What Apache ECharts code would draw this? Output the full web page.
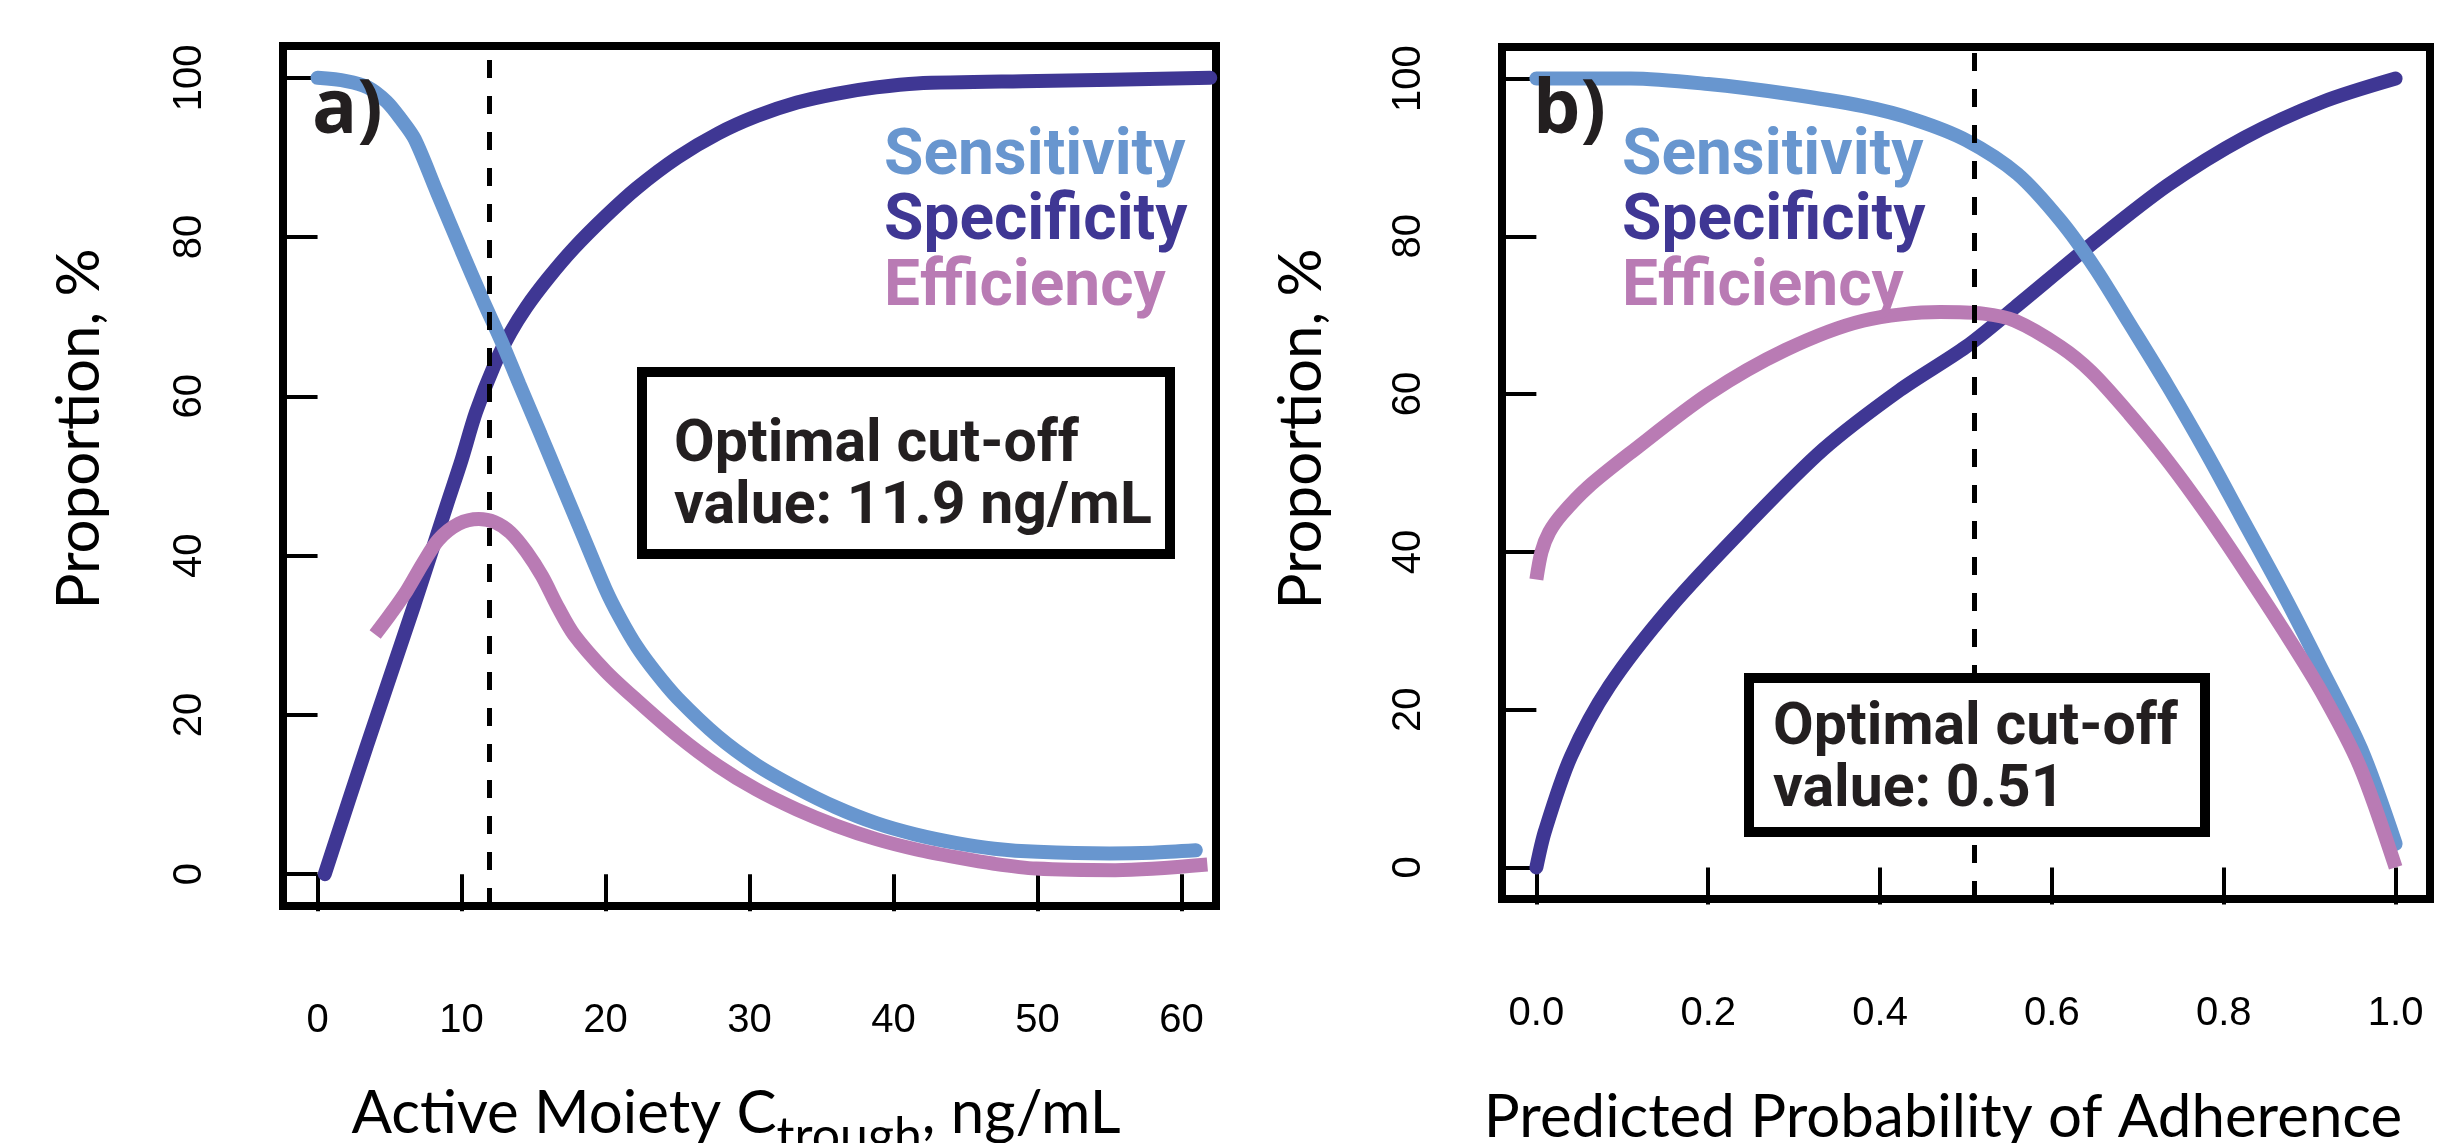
<!DOCTYPE html>
<html lang="en">
<head>
<meta charset="UTF-8">
<title>Sensitivity / Specificity / Efficiency</title>
<style>
  html, body { margin: 0; padding: 0; background: #fff; }
  #chart { width: 2450px; height: 1143px; }
</style>
</head>
<body>
<div id="chart"></div>
<script src="https://cdn.jsdelivr.net/npm/echarts@6.0.0/dist/echarts.min.js"></script>
<script>
// tick values
var xTicksA = [0, 10, 20, 30, 40, 50, 60];
var xTicksB = [0, 0.2, 0.4, 0.6, 0.8, 1.0];
var yTicks = [0, 20, 40, 60, 80, 100];
var cutoffA = 11.9;
var cutoffB = 0.505;

// panel a) : active moiety C trough, ng/mL  ->  proportion %
var sensA = [[0,100],[2,99.6],[3.5,98.8],[4.8,97],[5.8,94.8],[6.75,92.3],[8.3,85.6],[10,78.3],[11.5,72],
  [12.8,66.8],[14,61.6],[15.5,55.2],[16.7,50],[18.3,43.1],[20,35.8],[21,32.2],[22.2,28.5],[23.5,25.3],
  [25,22.1],[27.8,17.3],[30.5,13.7],[33.3,10.8],[36,8.4],[38.8,6.4],[41.5,5],[44.4,3.9],[47,3.2],
  [50,2.8],[55,2.6],[58,2.7],[61,3.0]];
var specA = [[0.5,0],[3.4,16],[6.75,34],[9,46.5],[10,52],[11,58],[12.3,64],[13.4,68],[14.5,71.2],
  [16,74.8],[17.8,78.6],[20,82.6],[22.2,86.2],[25,90],[27.8,93],[30.5,95.2],[33.3,96.9],[36,98],
  [38.8,98.8],[41.6,99.3],[50,99.6],[62,100]];
var effA = [[4,30.1],[5,32.5],[6.2,35.6],[7.3,39],[8.4,42],[9.8,44],[11.2,44.6],[12.3,44.2],[13.4,42.9],
  [14.5,40.5],[15.6,37.4],[16.7,33.5],[17.8,30.1],[20,25.5],[22.2,21.8],[25,17.4],[27.8,13.6],[30.5,10.6],
  [33.3,8.1],[36,6.1],[38.8,4.4],[41.6,3.1],[44.4,2.1],[47,1.3],[49.9,0.7],[55.4,0.5],[61.8,1.2]];

// panel b) : predicted probability of adherence  ->  proportion %
var sensB = [[0,100],[0.11,100],[0.2,99.3],[0.29,98.1],[0.38,96.5],[0.44,94.8],[0.5,92.2],[0.56,87.9],
  [0.61,82],[0.65,76],[0.69,69],[0.735,61],[0.78,52.5],[0.82,44.5],[0.87,34.5],[0.91,26],[0.96,15],[1.0,3]];
var specB = [[0,0],[0.01,4.6],[0.04,14],[0.085,23],[0.156,33],[0.245,43.4],[0.334,53],[0.423,60.5],
  [0.5,66],[0.557,71],[0.646,79],[0.735,86.5],[0.824,92.5],[0.914,97],[1.0,100]];
var effB = [[0,36.5],[0.006,40],[0.015,42.5],[0.03,44.8],[0.06,48.2],[0.11,52.6],[0.2,60],[0.29,65.6],
  [0.38,69.3],[0.47,70.4],[0.52,70.2],[0.557,69.3],[0.61,66],[0.646,62.8],[0.69,57.5],[0.735,51.5],
  [0.78,44.8],[0.824,37.7],[0.87,30],[0.914,22.2],[0.958,12.9],[1.0,0]];

var cSens = '#6896cf', cSpec = '#3f3794', cEff = '#b97bb4';
var tickFont = 'Liberation Sans, Arial, sans-serif';
var titleFont = 'Lato, sans-serif';
var boldFont = 'Roboto, sans-serif';

function curve(name, data, color, cap, gi, z) {
    return {
        name: name, type: 'line', xAxisIndex: gi, yAxisIndex: gi, data: data,
        showSymbol: false, smooth: 0.3, silent: true, z: z,
        lineStyle: { width: 14, color: color, cap: cap }
    };
}

function cutLine(gi, value) {
    return {
        type: 'line', xAxisIndex: gi, yAxisIndex: gi, data: [], z: 5,
        markLine: {
            silent: true, symbol: ['none', 'none'], label: { show: false },
            lineStyle: { type: [18, 18], width: 5, color: '#000' },
            data: [{ xAxis: value }]
        }
    };
}

function xAxis(gi, min, max, ticks, fmt) {
    return {
        gridIndex: gi, type: 'value', min: min, max: max,
        axisLine: { show: false }, splitLine: { show: false },
        axisTick: { show: true, customValues: ticks, length: 37, lineStyle: { width: 4, color: '#000' } },
        axisLabel: { customValues: ticks, margin: 95, fontSize: 40, fontFamily: tickFont, color: '#000', formatter: fmt }
    };
}

function yAxis(gi) {
    return {
        gridIndex: gi, type: 'value', min: -4, max: 104,
        axisLine: { show: false }, splitLine: { show: false },
        axisTick: { show: true, customValues: yTicks, length: 37, lineStyle: { width: 4, color: '#000' } },
        axisLabel: { customValues: yTicks, rotate: 90, margin: 73, fontSize: 40, fontFamily: tickFont, color: '#000' }
    };
}

function legendTexts(x) {
    return [
        { type: 'text', x: x, y: 158, z: 50, style: { text: 'Sensitivity', fill: cSens, font: 'bold 64px ' + boldFont, verticalAlign: 'middle' } },
        { type: 'text', x: x, y: 223, z: 50, style: { text: 'Specificity', fill: cSpec, font: 'bold 64px ' + boldFont, verticalAlign: 'middle' } },
        { type: 'text', x: x, y: 289, z: 50, style: { text: 'Efficiency', fill: cEff, font: 'bold 64px ' + boldFont, verticalAlign: 'middle' } }
    ];
}

function cutBox(x, y, w, h, tx, ty1, line2) {
    return [
        { type: 'rect', z: 60, shape: { x: x, y: y, width: w, height: h },
          style: { fill: '#fff', stroke: '#000', lineWidth: 10 } },
        { type: 'text', x: tx, y: ty1, z: 61, style: { text: 'Optimal cut-off', fill: '#231f20', font: 'bold 59px ' + boldFont, verticalAlign: 'middle' } },
        { type: 'text', x: tx, y: ty1 + 62, z: 61, style: { text: line2, fill: '#231f20', font: 'bold 59px ' + boldFont, verticalAlign: 'middle' } }
    ];
}

var graphics = [].concat(
    legendTexts(884), legendTexts(1622),
    cutBox(642, 372, 528, 182, 674, 446, 'value: 11.9 ng/mL'),
    cutBox(1749, 678, 456, 154, 1773, 729, 'value: 0.51'),
    [
        { type: 'text', x: 312, y: 112, z: 50, style: { text: 'a)', fill: '#231f20', font: 'bold 75px Open Sans, sans-serif', verticalAlign: 'middle' } },
        { type: 'text', x: 1533, y: 112, z: 50, style: { text: 'b)', fill: '#231f20', font: 'bold 75px Open Sans, sans-serif', verticalAlign: 'middle' } },
        { type: 'text', x: 80, y: 429, rotation: Math.PI / 2, z: 50,
          style: { text: 'Proportion, %', fill: '#000', font: '60px ' + titleFont, align: 'center', verticalAlign: 'middle' } },
        { type: 'text', x: 1302, y: 429, rotation: Math.PI / 2, z: 50,
          style: { text: 'Proportion, %', fill: '#000', font: '60px ' + titleFont, align: 'center', verticalAlign: 'middle' } },
        { type: 'text', x: 736, y: 1137, z: 50,
          style: { text: '{m|Active Moiety C}{s|trough}{m|, ng/mL}', align: 'center', verticalAlign: 'middle',
                   rich: { m: { fontFamily: titleFont, fontSize: 60, lineHeight: 60, verticalAlign: 'top', fill: '#000' },
                           s: { fontFamily: titleFont, fontSize: 50, lineHeight: 106, verticalAlign: 'middle', fill: '#000' } } } },
        { type: 'text', x: 1943, y: 1118, z: 50,
          style: { text: 'Predicted Probability of Adherence', fill: '#000', font: '60px ' + titleFont, align: 'center', verticalAlign: 'middle' } }
    ]
);

var chart = echarts.init(document.getElementById('chart'));
var option = {
    animation: false,
    backgroundColor: '#fff',
    grid: [
        { left: 283, top: 46, width: 933, height: 860, show: true, borderColor: '#000', borderWidth: 8 },
        { left: 1502, top: 47, width: 928, height: 852, show: true, borderColor: '#000', borderWidth: 8 }
    ],
    xAxis: [
        xAxis(0, -2.4, 62.4, xTicksA, function (v) { return String(v); }),
        xAxis(1, -0.04, 1.04, xTicksB, function (v) { return v.toFixed(1); })
    ],
    yAxis: [yAxis(0), yAxis(1)],
    series: [
        curve('Specificity', specA, cSpec, 'round', 0, 2),
        curve('Sensitivity', sensA, cSens, 'round', 0, 3),
        curve('Efficiency', effA, cEff, 'butt', 0, 4),
        cutLine(0, cutoffA),
        curve('Specificity', specB, cSpec, 'round', 1, 2),
        curve('Sensitivity', sensB, cSens, 'round', 1, 3),
        curve('Efficiency', effB, cEff, 'butt', 1, 4),
        cutLine(1, cutoffB)
    ],
    graphic: graphics
};
chart.setOption(option);
</script>
</body>
</html>
